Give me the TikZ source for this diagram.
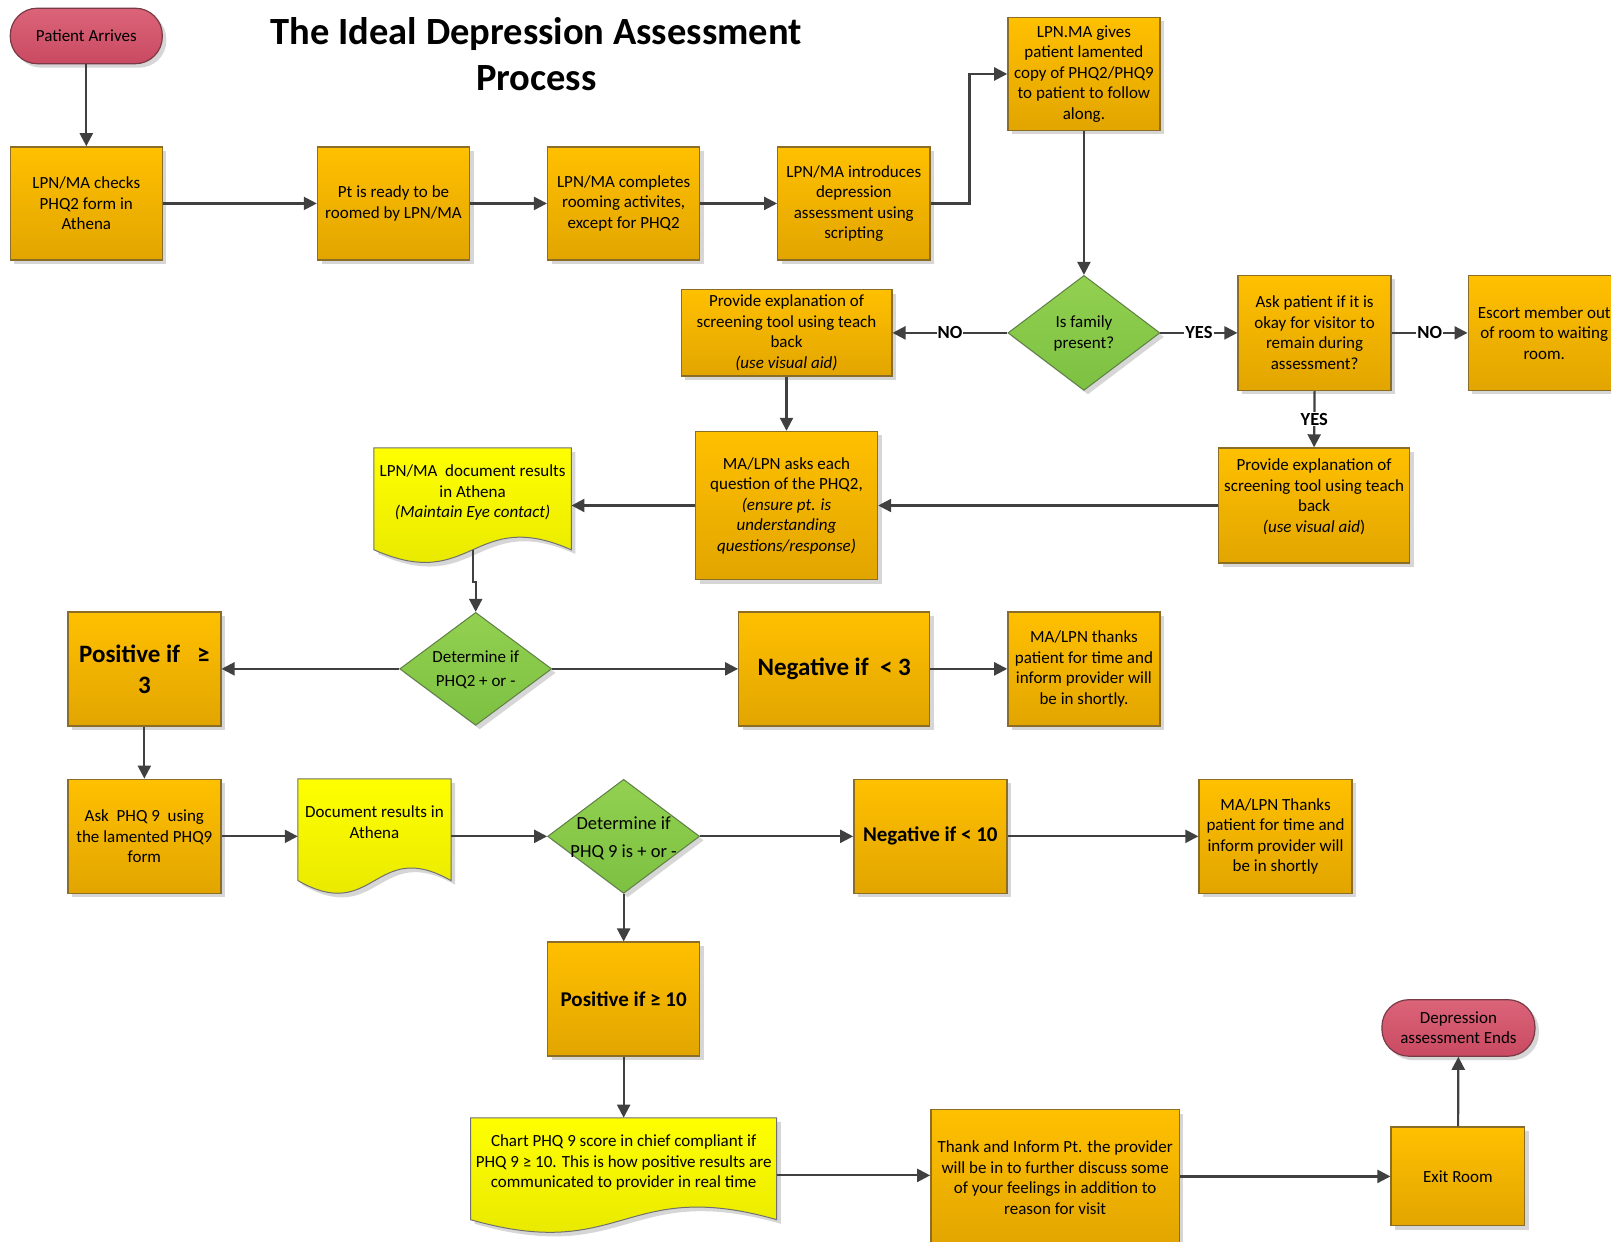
\documentclass[tikz,border=0pt]{standalone}
\usepackage{fontspec}
\setmainfont{Carlito}
\usetikzlibrary{shapes.geometric,arrows.meta,shadows,calc}
\definecolor{orT}{HTML}{FFC000}
\definecolor{orB}{HTML}{E2A500}
\definecolor{orD}{HTML}{8A6E28}
\definecolor{yeT}{HTML}{FFFF00}
\definecolor{yeB}{HTML}{E4E400}
\definecolor{yeD}{HTML}{707070}
\definecolor{grT}{HTML}{92D050}
\definecolor{grB}{HTML}{7DC142}
\definecolor{grD}{HTML}{5E7F45}
\definecolor{pkT}{HTML}{DB6479}
\definecolor{pkB}{HTML}{C94A62}
\definecolor{pkD}{HTML}{7A3A45}
\definecolor{ln}{HTML}{404040}
\definecolor{shd}{HTML}{D6D6D6}
\newcommand\docshape[4]{%
  \fill[shd] ({#1+4},{#2+4}) -- ({#1+#3+4},{#2+4}) -- ({#1+#3+4},{#2+0.885*#4+4})
    .. controls ({#1+0.5*#3+4},{#2+0.505*#4+4}) and ({#1+0.5*#3+4},{#2+1.265*#4+4}) .. ({#1+4},{#2+0.885*#4+4}) -- cycle;
  \path[draw=yeD, line width=1pt, top color=yeT, bottom color=yeB] (#1,#2) -- ({#1+#3},#2) -- ({#1+#3},{#2+0.885*#4})
    .. controls ({#1+0.5*#3},{#2+0.505*#4}) and ({#1+0.5*#3},{#2+1.265*#4}) .. (#1,{#2+0.885*#4}) -- cycle;}
\newcommand\dtext[1]{\smash{\makebox[0pt]{\raisebox{-5.5pt}{\begin{tabular}{@{}c@{}}#1\end{tabular}}}}}
\tikzset{
 every node/.style={font=\fontsize{17}{20.5}\selectfont, text=black},
 sh/.style={drop shadow={shadow xshift=4pt, shadow yshift=-4pt, fill=shd, opacity=1}},
 proc/.style={rectangle, draw=orD, line width=1.4pt, top color=orT, bottom color=orB, align=center, inner sep=3pt, sh},
 dec/.style={diamond, draw=grD, line width=1pt, top color=grT, bottom color=grB, inner sep=0pt, sh},
 term/.style={rectangle, rounded corners=27pt, draw=pkD, line width=1.2pt, top color=pkT, bottom color=pkB, align=center, sh},
 docn/.style={rectangle, draw=none, align=center, text depth=28pt, inner sep=0pt},
 arr/.style={draw=ln, line width=2.2pt, -{Triangle[length=13pt,width=13pt]}},
 lab/.style={fill=white, font=\fontsize{18.5}{20}\selectfont\bfseries, inner sep=1pt},
 big/.style={font=\fontsize{25}{31}\selectfont\bfseries},
 mid/.style={font=\fontsize{21}{25}\selectfont\bfseries},
}
\begin{document}
\begin{tikzpicture}[x=1.0274pt, y=-1.0274pt]
\useasboundingbox (0,0) rectangle (1568,1208);
\clip (0,0) rectangle (1568,1208);
\fill[white] (0,0) rectangle (1568,1208);

\node[font=\fontsize{38.5}{46}\selectfont\bfseries, align=center] (title) at (522,53) {The Ideal Depression Assessment\\Process};

\node[term, minimum width=152pt, minimum height=55.5pt] (pill1) at (84,35) {Patient Arrives};
\node[proc, minimum width=152pt, minimum height=113pt] (b1) at (84,198) {LPN/MA checks\\PHQ2 form in\\Athena};
\node[proc, minimum width=152pt, minimum height=113pt] (b2) at (383,198) {Pt is ready to be\\roomed by LPN/MA};
\node[proc, minimum width=152pt, minimum height=113pt] (b3) at (607,198) {LPN/MA completes\\rooming activites,\\except for PHQ2};
\node[proc, minimum width=152pt, minimum height=113pt] (b4) at (831,198) {LPN/MA introduces\\depression\\assessment using\\scripting};
\node[proc, minimum width=152pt, minimum height=113pt] (b5) at (1055,72) {LPN.MA gives\\patient lamented\\copy of PHQ2/PHQ9\\to patient to follow\\along.};
\node[dec, minimum width=152pt, minimum height=115pt] (dia1) at (1055,324) {\dtext{Is family\\present?}};
\node[proc, minimum width=210.6pt, minimum height=86.3pt] (b6) at (765.5,324) {Provide explanation of\\screening tool using teach\\back\\\textit{(use visual aid)}};
\node[proc, minimum width=153pt, minimum height=115pt] (b7) at (1279.5,324) {Ask patient if it is\\okay for visitor to\\remain during\\assessment?};
\node[proc, minimum width=152pt, minimum height=115pt] (b8) at (1503,324) {Escort member out\\of room to waiting\\room.};
\node[proc, text depth=20pt, minimum width=191pt, minimum height=115pt] (b9) at (1279,492) {Provide explanation of\\screening tool using teach\\back\\\textit{(use visual aid})};
\node[proc, minimum width=182pt, minimum height=148pt] (b10) at (765.5,492) {MA/LPN asks each\\question of the PHQ2,\\\textit{(ensure pt. is}\\\textit{understanding}\\\textit{questions/response)}};

\docshape{364}{436}{192}{112}
\node[docn, minimum width=197.3pt, minimum height=115pt] (doc1) at (460,492) {LPN/MA\ \ document results\\in Athena\\\textit{(Maintain Eye contact)}};

\node[dec, minimum width=152pt, minimum height=113pt] (dia2) at (463,651) {\fontsize{17}{23.5}\selectfont\dtext{Determine if\\PHQ2 + or -}};
\node[proc, big, minimum width=153pt, minimum height=114pt] (b11) at (140.5,651) {Positive if\ \ \ ≥\\3};
\node[proc, big, minimum width=191pt, minimum height=114pt] (b12) at (812,651) {Negative if\ \ < 3};
\node[proc, minimum width=152pt, minimum height=114pt] (b13) at (1055,651) {MA/LPN thanks\\patient for time and\\inform provider will\\be in shortly.};

\node[proc, minimum width=153pt, minimum height=114pt] (b14) at (140.5,814) {Ask\ \ PHQ 9\ \ using\\the lamented PHQ9\\form};
\docshape{290}{758}{149}{112}
\node[docn, minimum width=153pt, minimum height=115pt] (doc2) at (364.5,814) {Document results in\\Athena};
\node[dec, minimum width=152pt, minimum height=114pt] (dia3) at (607,814) {\fontsize{18.5}{28}\selectfont\dtext{Determine if\\PHQ 9 is + or -}};
\node[proc, mid, minimum width=153pt, minimum height=114pt] (b15) at (905.5,814) {Negative if < 10};
\node[proc, minimum width=153pt, minimum height=114pt] (b16) at (1241.5,814) {MA/LPN Thanks\\patient for time and\\inform provider will\\be in shortly};
\node[proc, mid, minimum width=152pt, minimum height=114pt] (b17) at (607,972.5) {Positive if ≥ 10};

\docshape{458}{1088}{298}{112}
\node[docn, minimum width=306pt, minimum height=115pt] (doc3) at (607,1144) {Chart PHQ 9 score in chief compliant if\\PHQ 9 ≥ 10. This is how positive results are\\communicated to provider in real time};
\node[proc, minimum width=248.6pt, minimum height=135.6pt] (b18) at (1027,1146) {Thank and Inform Pt. the provider\\will be in to further discuss some\\of your feelings in addition to\\reason for visit};
\node[proc, minimum width=133.6pt, minimum height=98.6pt] (b19) at (1419,1145) {Exit Room};
\node[term, minimum width=153pt, minimum height=56.5pt] (pill2) at (1419.5,1000.5) {Depression\\assessment Ends};

% connectors
\draw[arr] (pill1) -- (b1);
\draw[arr] (b1) -- (b2);
\draw[arr] (b2) -- (b3);
\draw[arr] (b3) -- (b4);
\draw[arr] (b4.east) -- ++(38,0) |- (b5.west);
\draw[arr] (b5) -- (dia1);
\draw[arr] (dia1) -- node[lab]{NO} (b6);
\draw[arr] (dia1) -- node[lab]{YES} (b7);
\draw[arr] (b7) -- node[lab]{NO} (b8);
\draw[arr] (b7.south) -- node[lab]{YES} (b9.north);
\draw[arr] (b9) -- (b10);
\draw[arr] (b6) -- (b10);
\draw[arr] (b10) -- (doc1);
\draw[arr] ([yshift=13.3pt]doc1.south) -- ++(0,31) -| (dia2.north);
\draw[arr] (dia2) -- (b11);
\draw[arr] (dia2) -- (b12);
\draw[arr] (b12) -- (b13);
\draw[arr] (b11) -- (b14);
\draw[arr] (b14) -- (doc2);
\draw[arr] (doc2) -- (dia3);
\draw[arr] (dia3) -- (b15);
\draw[arr] (b15) -- (b16);
\draw[arr] (dia3) -- (b17);
\draw[arr] (b17.south) -- (doc3.north);
\draw[arr] (doc3.east) -- (doc3.east -| b18.west);
\draw[arr] (b18.east |- b19.west) -- (b19.west);
\draw[arr] (b19) -- (pill2);
\end{tikzpicture}
\end{document}
